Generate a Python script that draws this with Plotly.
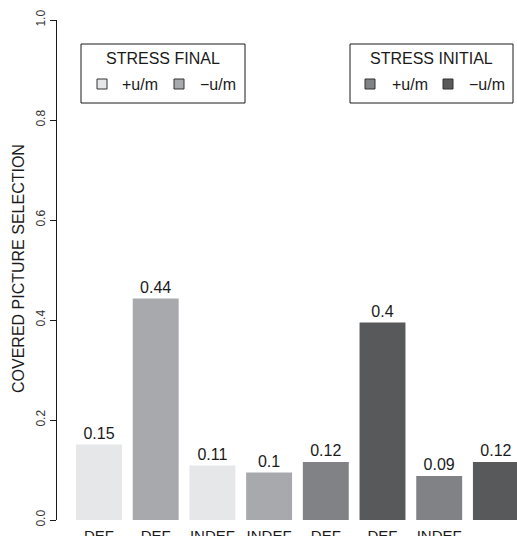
import plotly.graph_objects as go

# ---- data ----
categories = ["DEF", "DEF", "INDEF", "INDEF", "DEF", "DEF", "INDEF", "INDEF"]
values = [0.151, 0.443, 0.109, 0.095, 0.116, 0.395, 0.088, 0.116]
value_labels = ["0.15", "0.44", "0.11", "0.1", "0.12", "0.4", "0.09", "0.12"]
bar_colors = ["#e6e7e8", "#a7a9ac", "#e6e7e8", "#a7a9ac",
              "#808285", "#58595b", "#808285", "#58595b"]
y_ticks = [0.0, 0.2, 0.4, 0.6, 0.8, 1.0]
y_title = "COVERED PICTURE SELECTION"
legend_final_title = "STRESS FINAL"
legend_initial_title = "STRESS INITIAL"
legend_items = ["+u/m", "\u2212u/m"]
legend_final_colors = ["#e6e7e8", "#a7a9ac"]
legend_initial_colors = ["#808285", "#58595b"]

FONT = "Liberation Sans, Arial, Helvetica, sans-serif"
W, H = 517, 536
ML, MR, MT, MB = 57, 0, 20, 16
PW = W - ML - MR
PH = H - MT - MB

def px_x(p):
    return (p - ML) / PW

def px_y(p):
    return (H - MB - p) / PH

positions = list(range(len(categories)))

fig = go.Figure()
fig.add_trace(go.Bar(
    x=positions, y=values,
    width=0.81,
    marker=dict(color=bar_colors, line=dict(width=0)),
    text=value_labels, textposition="outside",
    textfont=dict(family=FONT, size=16, color="#1a1a1a"),
    cliponaxis=False,
    hoverinfo="skip",
))

shapes = []
annotations = []

def legend_box(x0, x1, title, colors, sq_x, txt_x):
    shapes.append(dict(type="rect", xref="paper", yref="paper",
                       x0=px_x(x0), x1=px_x(x1), y0=px_y(103), y1=px_y(44),
                       line=dict(color="#1a1a1a", width=1), fillcolor="white"))
    annotations.append(dict(xref="paper", yref="paper", x=px_x((x0 + x1) / 2), y=px_y(59),
                            text=title, showarrow=False, xanchor="center", yanchor="middle",
                            font=dict(family=FONT, size=16, color="#1a1a1a")))
    for c, sx, tx, lab in zip(colors, sq_x, txt_x, legend_items):
        shapes.append(dict(type="rect", xref="paper", yref="paper",
                           x0=px_x(sx), x1=px_x(sx + 10), y0=px_y(89), y1=px_y(79),
                           line=dict(color="#333333", width=1), fillcolor=c))
        annotations.append(dict(xref="paper", yref="paper", x=px_x(tx), y=px_y(84),
                                text=lab, showarrow=False, xanchor="left", yanchor="middle",
                                font=dict(family=FONT, size=16, color="#1a1a1a")))

legend_box(81, 245, legend_final_title, legend_final_colors, [97, 174], [120, 198])
legend_box(350, 513, legend_initial_title, legend_initial_colors, [365, 443], [390, 467])

annotations.append(dict(xref="paper", yref="paper", x=px_x(18), y=px_y(269),
                        text=y_title, textangle=-90, showarrow=False,
                        xanchor="center", yanchor="middle",
                        font=dict(family=FONT, size=16, color="#1a1a1a")))

fig.update_layout(
    width=W, height=H,
    margin=dict(l=ML, r=MR, t=MT, b=MB, pad=0, autoexpand=False),
    paper_bgcolor="white", plot_bgcolor="white",
    showlegend=False,
    shapes=shapes, annotations=annotations,
    xaxis=dict(range=[(ML - 99) / 56.7, (W - 99) / 56.7],
               tickvals=positions, ticktext=categories,
               showgrid=False, zeroline=False, showline=False, ticks="",
               ticklabelstandoff=5,
               tickfont=dict(family=FONT, size=15, color="#1a1a1a"),
               automargin=False, fixedrange=True),
    yaxis=dict(range=[0, 1], tickvals=y_ticks, tickformat=".1f",
               showgrid=False, zeroline=False, showline=True,
               linecolor="#1a1a1a", linewidth=1,
               ticks="outside", ticklen=6, tickcolor="#1a1a1a", tickwidth=1,
               tickangle=-90,
               tickfont=dict(family=FONT, size=12, color="#333333"),
               automargin=False, fixedrange=True),
)

fig.write_html("out.html", config={"displayModeBar": False},
               post_script="document.body.style.margin='0';document.body.style.overflow='hidden';")
